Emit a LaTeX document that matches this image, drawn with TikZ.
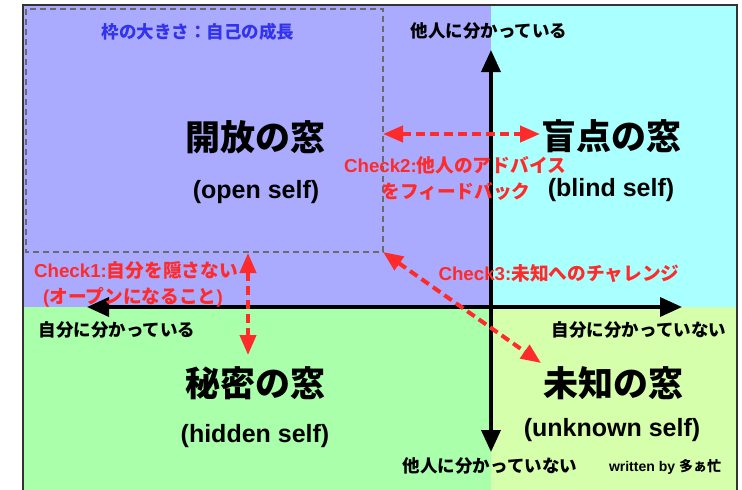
\documentclass[tikz,border=0pt]{standalone}
\usepackage{fontspec}
\setmainfont{Liberation Sans}
\newfontfamily\jp{Noto Sans CJK JP}
\usetikzlibrary{arrows.meta}
\definecolor{qpurple}{HTML}{AAAAFF}
\definecolor{qcyan}{HTML}{AAFFFF}
\definecolor{qgreen}{HTML}{AAFFAA}
\definecolor{qyellow}{HTML}{D5FFAA}
\definecolor{redtxt}{HTML}{FF2A2A}
\definecolor{bluetxt}{HTML}{3333EE}
\definecolor{framecol}{HTML}{333333}
\definecolor{dashgray}{HTML}{6A6A6A}
\newcommand\jtxt[1]{{\jp\bfseries #1}}
\begin{document}
\begin{tikzpicture}[x=1pt,y=-1pt,
  axisline/.style={line width=3.6pt, {Triangle[length=22pt,width=19pt]}-{Triangle[length=22pt,width=19pt]}},
  redarrow/.style={redtxt, line width=4pt, dash pattern=on 9pt off 5pt, {Triangle[length=20pt,width=16pt]}-{Triangle[length=20pt,width=16pt]}},
  bigtitle/.style={font=\jp\bfseries\fontsize{35}{37}\selectfont, inner sep=0pt},
  subtitle/.style={font=\bfseries\fontsize{25}{28}\selectfont, inner sep=0pt},
  axislabel/.style={font=\jp\bfseries\fontsize{17.5}{20}\selectfont, inner sep=0pt},
  redlabel/.style={font=\bfseries\fontsize{18.7}{21}\selectfont, text=redtxt, inner sep=0pt},
  bluelabel/.style={font=\jp\bfseries\fontsize{17.5}{20}\selectfont, text=bluetxt, inner sep=0pt},
  smalllabel/.style={font=\bfseries\fontsize{14}{16}\selectfont, inner sep=0pt}
]
\useasboundingbox (0,0) rectangle (742,490);
% quadrants
\fill[qpurple] (23,5) rectangle (491,307);
\fill[qcyan] (491,5) rectangle (737,307);
\fill[qgreen] (23,307) rectangle (491,490);
\fill[qyellow] (491,307) rectangle (737,490);
% frame
\draw[framecol, line width=2pt] (23,491) -- (23,5) -- (737,5) -- (737,491);
% dashed growth frame
\draw[dashgray, line width=2.8pt, dash pattern=on 6pt off 4pt] (26,9) rectangle (383,252);
\coordinate (corner) at (383,252);
% axes
\coordinate (vtop) at (491,50);
\coordinate (vbot) at (491,452);
\coordinate (hleft) at (87,307);
\coordinate (hright) at (682,307);
\draw[axisline] (vbot) -- (vtop);
\draw[axisline] (hleft) -- (hright);
% texts
\node[bluelabel] (growth) at (198,32) {枠の大きさ：自己の成長};
\node[axislabel] (otherknown) at (489,31) {他人に分かっている};
\node[axislabel] (otherunknown) at (490,466) {他人に分かっていない};
\node[axislabel] (selfknown) at (117,330) {自分に分かっている};
\node[axislabel] (selfunknown) at (639,330) {自分に分かっていない};
\node[bigtitle] (open) at (255,137) {開放の窓};
\node[subtitle] (opensub) at (256,192) {(open self)};
\node[bigtitle] (blind) at (611,136) {盲点の窓};
\node[subtitle] (blindsub) at (611,190) {(blind self)};
\node[bigtitle] (hidden) at (255,383) {秘密の窓};
\node[subtitle] (hiddensub) at (255,436) {(hidden self)};
\node[bigtitle] (unknown) at (613,383) {未知の窓};
\node[subtitle] (unknownsub) at (612,430) {(unknown self)};
\node[redlabel] (chk2a) at (455,165) {Check2:\jtxt{他人のアドバイス}};
\node[redlabel] (chk2b) at (456,191) {\jtxt{をフィードバック}};
\node[redlabel] (chk1a) at (136,270) {Check1:\jtxt{自分を隠さない}};
\node[redlabel] (chk1b) at (133,297) {(\jtxt{オープンになること})};
\node[redlabel] (chk3) at (559,274) {Check3:\jtxt{未知へのチャレンジ}};
\node[smalllabel] (author) at (665,467) {written by \jtxt{多ぁ忙}};
% red check arrows
\coordinate (c2l) at (383,134);
\coordinate (c2r) at (540,134);
\coordinate (c1t) at (248,253);
\coordinate (c1b) at (248,355);
\coordinate (c3e) at (541,363);
\draw[redarrow] (c2l) -- (c2r);
\draw[redarrow] (c1t) -- (c1b);
\draw[redarrow] (corner) -- (c3e);
\end{tikzpicture}
\end{document}
